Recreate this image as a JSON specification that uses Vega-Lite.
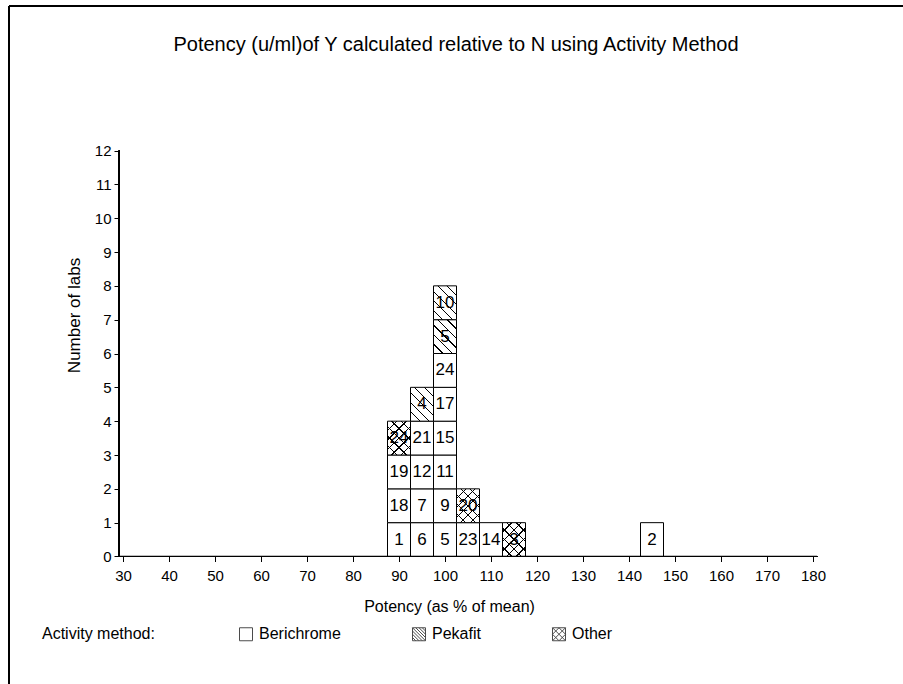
{
  "$schema": "https://vega.github.io/schema/vega-lite/v6.json",
  "width": 894,
  "height": 678,
  "autosize": {"type": "none"},
  "padding": {"left": 9, "top": 6, "right": 0, "bottom": 0},
  "background": "white",
  "config": {
    "font": "Liberation Sans",
    "view": {"stroke": "black", "strokeWidth": 2, "strokeDash": [894, 1572, 678, 0], "fill": "white"},
    "axis": {"grid": false, "domain": false, "tickColor": "black", "labelColor": "black", "titleColor": "black", "labelFont": "Liberation Sans", "titleFont": "Liberation Sans", "labelFontSize": 15, "titleFontSize": 16, "titleFontWeight": "normal", "tickSize": 5, "labelPadding": 3, "labelOverlap": false, "labelFlush": false}
  },
  "title": {"text": "Potency (u/ml)of Y calculated relative to N using Activity Method", "offset": -49, "fontSize": 20, "fontWeight": "normal", "font": "Liberation Sans", "color": "black", "anchor": "middle", "frame": "group"},
  "data": {"values": [
    {"lab": "1", "potency": 90, "method": "Berichrome", "n": 1},
    {"lab": "18", "potency": 90, "method": "Berichrome", "n": 1},
    {"lab": "19", "potency": 90, "method": "Berichrome", "n": 1},
    {"lab": "24", "potency": 90, "method": "Other", "n": 1},
    {"lab": "6", "potency": 95, "method": "Berichrome", "n": 1},
    {"lab": "7", "potency": 95, "method": "Berichrome", "n": 1},
    {"lab": "12", "potency": 95, "method": "Berichrome", "n": 1},
    {"lab": "21", "potency": 95, "method": "Berichrome", "n": 1},
    {"lab": "4", "potency": 95, "method": "Pekafit", "n": 1},
    {"lab": "5", "potency": 100, "method": "Berichrome", "n": 1},
    {"lab": "9", "potency": 100, "method": "Berichrome", "n": 1},
    {"lab": "11", "potency": 100, "method": "Berichrome", "n": 1},
    {"lab": "15", "potency": 100, "method": "Berichrome", "n": 1},
    {"lab": "17", "potency": 100, "method": "Berichrome", "n": 1},
    {"lab": "24", "potency": 100, "method": "Berichrome", "n": 1},
    {"lab": "5", "potency": 100, "method": "Pekafit", "n": 1},
    {"lab": "10", "potency": 100, "method": "Pekafit", "n": 1},
    {"lab": "23", "potency": 105, "method": "Berichrome", "n": 1},
    {"lab": "20", "potency": 105, "method": "Other", "n": 1},
    {"lab": "14", "potency": 110, "method": "Berichrome", "n": 1},
    {"lab": "3", "potency": 115, "method": "Other", "n": 1},
    {"lab": "2", "potency": 145, "method": "Berichrome", "n": 1}
  ]},
  "transform": [
    {"calculate": "datum.potency - 2.5", "as": "x0"},
    {"calculate": "datum.potency + 2.5", "as": "x1"},
    {"stack": "n", "groupby": ["potency"], "as": ["y0", "y1"]},
    {"calculate": "(datum.y0 + datum.y1) / 2", "as": "ymid"}
  ],
  "layer": [
    {
      "mark": {"type": "rect", "fill": "white", "stroke": "black", "strokeWidth": 1},
      "encoding": {
        "x": {"field": "x0", "type": "quantitative", "scale": {"domain": [5.217, 199.565], "nice": false, "zero": false},
          "axis": {"orient": "bottom", "offset": -127.5, "labelPadding": 7, "values": [30, 32.5, 35, 37.5, 40, 42.5, 45, 47.5, 50, 52.5, 55, 57.5, 60, 62.5, 65, 67.5, 70, 72.5, 75, 77.5, 80, 82.5, 85, 87.5, 90, 92.5, 95, 97.5, 100, 102.5, 105, 107.5, 110, 112.5, 115, 117.5, 120, 122.5, 125, 127.5, 130, 132.5, 135, 137.5, 140, 142.5, 145, 147.5, 150, 152.5, 155, 157.5, 160, 162.5, 165, 167.5, 170, 172.5, 175, 177.5, 180],
            "labelExpr": "datum.value % 10 == 0 ? format(datum.value, 'd') : ''", "title": "Potency (as % of mean)", "titleX": 440, "titleY": 55, "titleBaseline": "alphabetic"}},
        "x2": {"field": "x1"},
        "y": {"field": "y0", "type": "quantitative", "scale": {"domain": [-3.769, 16.272], "nice": false, "zero": false},
          "axis": {"orient": "left", "offset": -110, "values": [0, 1, 2, 3, 4, 5, 6, 7, 8, 9, 10, 11, 12], "format": "d", "title": "Number of labs", "titleFontSize": 17, "titleX": -40, "titleY": 309, "titleAngle": 270, "titleBaseline": "alphabetic", "titleAlign": "center"}},
        "y2": {"field": "y1"}
      }
    },
    {
      "transform": [{"filter": "datum.method !== 'Berichrome'"}],
      "mark": {"type": "rect", "strokeWidth": 0, "fill": {"gradient": "linear", "x1": 0, "y1": 1, "x2": 0.781, "y2": -0.149, "stops": [
        {"offset": 0, "color": "rgba(0,0,0,0)"},
        {"offset": 0.155, "color": "rgba(0,0,0,0)"}, {"offset": 0.155, "color": "#000000"}, {"offset": 0.178, "color": "#000000"}, {"offset": 0.178, "color": "rgba(0,0,0,0)"},
        {"offset": 0.322, "color": "rgba(0,0,0,0)"}, {"offset": 0.322, "color": "#000000"}, {"offset": 0.345, "color": "#000000"}, {"offset": 0.345, "color": "rgba(0,0,0,0)"},
        {"offset": 0.4885, "color": "rgba(0,0,0,0)"}, {"offset": 0.4885, "color": "#000000"}, {"offset": 0.5115, "color": "#000000"}, {"offset": 0.5115, "color": "rgba(0,0,0,0)"},
        {"offset": 0.655, "color": "rgba(0,0,0,0)"}, {"offset": 0.655, "color": "#000000"}, {"offset": 0.678, "color": "#000000"}, {"offset": 0.678, "color": "rgba(0,0,0,0)"},
        {"offset": 0.822, "color": "rgba(0,0,0,0)"}, {"offset": 0.822, "color": "#000000"}, {"offset": 0.845, "color": "#000000"}, {"offset": 0.845, "color": "rgba(0,0,0,0)"},
        {"offset": 1, "color": "rgba(0,0,0,0)"}]}},
      "encoding": {
        "x": {"field": "x0", "type": "quantitative", "scale": {"domain": [5.217, 199.565], "nice": false, "zero": false}},
        "x2": {"field": "x1"},
        "y": {"field": "y0", "type": "quantitative", "scale": {"domain": [-3.769, 16.272], "nice": false, "zero": false}},
        "y2": {"field": "y1"}
      }
    },
    {
      "transform": [{"filter": "datum.method === 'Other'"}],
      "mark": {"type": "rect", "strokeWidth": 0, "fill": {"gradient": "linear", "x1": 0, "y1": 0, "x2": 0.781, "y2": 1.149, "stops": [
        {"offset": 0, "color": "rgba(0,0,0,0)"},
        {"offset": 0.155, "color": "rgba(0,0,0,0)"}, {"offset": 0.155, "color": "#000000"}, {"offset": 0.178, "color": "#000000"}, {"offset": 0.178, "color": "rgba(0,0,0,0)"},
        {"offset": 0.322, "color": "rgba(0,0,0,0)"}, {"offset": 0.322, "color": "#000000"}, {"offset": 0.345, "color": "#000000"}, {"offset": 0.345, "color": "rgba(0,0,0,0)"},
        {"offset": 0.4885, "color": "rgba(0,0,0,0)"}, {"offset": 0.4885, "color": "#000000"}, {"offset": 0.5115, "color": "#000000"}, {"offset": 0.5115, "color": "rgba(0,0,0,0)"},
        {"offset": 0.655, "color": "rgba(0,0,0,0)"}, {"offset": 0.655, "color": "#000000"}, {"offset": 0.678, "color": "#000000"}, {"offset": 0.678, "color": "rgba(0,0,0,0)"},
        {"offset": 0.822, "color": "rgba(0,0,0,0)"}, {"offset": 0.822, "color": "#000000"}, {"offset": 0.845, "color": "#000000"}, {"offset": 0.845, "color": "rgba(0,0,0,0)"},
        {"offset": 1, "color": "rgba(0,0,0,0)"}]}},
      "encoding": {
        "x": {"field": "x0", "type": "quantitative", "scale": {"domain": [5.217, 199.565], "nice": false, "zero": false}},
        "x2": {"field": "x1"},
        "y": {"field": "y0", "type": "quantitative", "scale": {"domain": [-3.769, 16.272], "nice": false, "zero": false}},
        "y2": {"field": "y1"}
      }
    },
    {
      "mark": {"type": "text", "fontSize": 17, "color": "black", "align": "center", "baseline": "middle", "font": "Liberation Sans"},
      "encoding": {
        "x": {"field": "potency", "type": "quantitative", "scale": {"domain": [5.217, 199.565], "nice": false, "zero": false}},
        "y": {"field": "ymid", "type": "quantitative", "scale": {"domain": [-3.769, 16.272], "nice": false, "zero": false}},
        "text": {"field": "lab", "type": "nominal"}
      }
    },
    {
      "mark": {"type": "rule", "color": "black", "strokeWidth": 1},
      "encoding": {
        "x": {"datum": 29.2, "type": "quantitative", "scale": {"domain": [5.217, 199.565], "nice": false, "zero": false}},
        "y": {"datum": 0, "type": "quantitative", "scale": {"domain": [-3.769, 16.272], "nice": false, "zero": false}},
        "y2": {"datum": 12}
      }
    },
    {
      "mark": {"type": "rule", "color": "black", "strokeWidth": 1},
      "encoding": {
        "x": {"datum": 29.2, "type": "quantitative", "scale": {"domain": [5.217, 199.565], "nice": false, "zero": false}},
        "x2": {"datum": 180.9},
        "y": {"datum": 0, "type": "quantitative", "scale": {"domain": [-3.769, 16.272], "nice": false, "zero": false}}
      }
    },
    {
      "transform": [{"filter": "false"}],
      "mark": {"type": "point", "filled": false, "color": "black", "strokeWidth": 1},
      "encoding": {
        "shape": {"field": "method", "type": "nominal",
          "scale": {"domain": ["Berichrome", "Pekafit", "Other"], "range": [
            "M-1,-1H1V1H-1Z",
            "M-1,-1H1V1H-1Z M-1,-1L1,1 M0,-1L1,0 M-1,0L0,1 M0.5,-1L1,-0.5 M-1,0.5L-0.5,1 M-0.5,-1L1,0.5 M-1,-0.5L0.5,1",
            "M-1,-1H1V1H-1Z M-1,-1L1,1 M1,-1L-1,1 M0,-1L1,0 M-1,0L0,1 M0,-1L-1,0 M1,0L0,1"]},
          "legend": {"orient": "none", "legendX": 33, "legendY": 620, "direction": "horizontal", "title": "Activity method:", "titleOrient": "left", "titleFontSize": 16, "titleFontWeight": "normal", "titleFont": "Liberation Sans", "titleColor": "black", "labelFont": "Liberation Sans", "labelFontSize": 16, "labelColor": "black", "symbolSize": 169, "symbolStrokeWidth": 1, "symbolStrokeColor": "black", "symbolFillColor": "transparent", "labelOffset": 5, "columnPadding": 69, "titlePadding": 83, "padding": 0}}
      }
    }
  ]
}
